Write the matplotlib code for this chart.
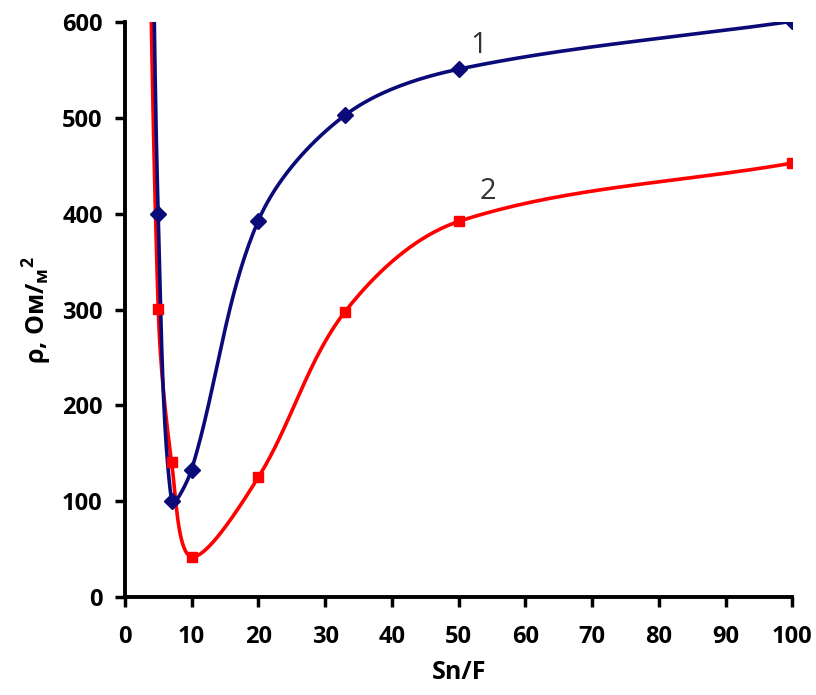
import matplotlib.pyplot as plt
import numpy as np

# значения
x1 = [4, 5, 7, 10, 20, 33, 50, 100]
rho1 = [800, 400, 100, 133, 393, 503, 551, 601]
x2 = [3, 5, 7, 10, 20, 33, 50, 100]
rho2 = [1000, 301, 141, 42, 125, 298, 392, 453]

xticks = list(range(0, 101, 10))
yticks = list(range(0, 601, 100))

# примерный масштаб экрана (пикс. на единицу) для сглаживания
kx, ky = 6.66, 0.958


def smooth(xs, ys, n=40):
    # сглаженная линия (Безье, касательные взвешены по длинам отрезков)
    p = np.column_stack([np.array(xs) * kx, np.array(ys) * ky]).astype(float)
    m = len(p)
    out = [p[0]]
    for i in range(m - 1):
        a = p[i]
        b = p[i + 1]
        pa = p[i - 1] if i > 0 else a
        nb = p[i + 2] if i + 2 < m else b
        la0 = np.linalg.norm(a - pa)
        la1 = np.linalg.norm(b - a)
        lb1 = np.linalg.norm(nb - b)
        c1 = a + (b - pa) * (la1 / (la0 + la1)) / 3 if la0 > 0 else a + (b - a) / 3
        c2 = b - (nb - a) * (la1 / (la1 + lb1)) / 3 if lb1 > 0 else b - (b - a) / 3
        t = np.linspace(0, 1, n)[1:, None]
        seg = ((1 - t) ** 3 * a + 3 * (1 - t) ** 2 * t * c1
               + 3 * (1 - t) * t ** 2 * c2 + t ** 3 * b)
        out.extend(seg)
    out = np.array(out)
    return out[:, 0] / kx, out[:, 1] / ky


plt.rcParams['font.family'] = ['Open Sans', 'DejaVu Sans']

fig = plt.figure(figsize=(8.16, 6.95), dpi=100)
ax = fig.add_axes([0.153, 0.141, 0.818, 0.827])

blue = '#0a0a78'
red = '#ff0000'

sx, sy = smooth(x1, rho1)
ax.plot(sx, sy, color=blue, lw=2.6, zorder=3)
ax.plot(x1, rho1, ls='none', marker='D', ms=8.5, color=blue, zorder=4)

sx, sy = smooth(x2, rho2)
ax.plot(sx, sy, color=red, lw=2.6, zorder=2)
ax.plot(x2, rho2, ls='none', marker='s', ms=7.5, color=red, zorder=4)

ax.text(53, 576, '1', fontsize=21, color='#333333', ha='center', va='center')
ax.text(54.4, 423, '2', fontsize=21, color='#333333', ha='center', va='center')

ax.set_xlim(0, 100)
ax.set_ylim(0, 600)
ax.set_xticks(xticks)
ax.set_yticks(yticks)

for s in ['top', 'right']:
    ax.spines[s].set_visible(False)
for s in ['left', 'bottom']:
    ax.spines[s].set_linewidth(2.8)
ax.tick_params(direction='out', length=7, width=2.5, labelsize=17)
ax.tick_params(axis='x', pad=13)
ax.tick_params(axis='y', pad=9)
for lab in ax.get_xticklabels() + ax.get_yticklabels():
    lab.set_fontweight('bold')

ax.set_xlabel('Sn/F', fontsize=18, fontweight='bold', labelpad=8)
ax.set_ylabel('ρ, Ом/$\\mathregular{_{м}}$$^{\\mathregular{2}}$', fontsize=18, fontweight='bold', labelpad=6)

fig.savefig('out.png', dpi=100)
